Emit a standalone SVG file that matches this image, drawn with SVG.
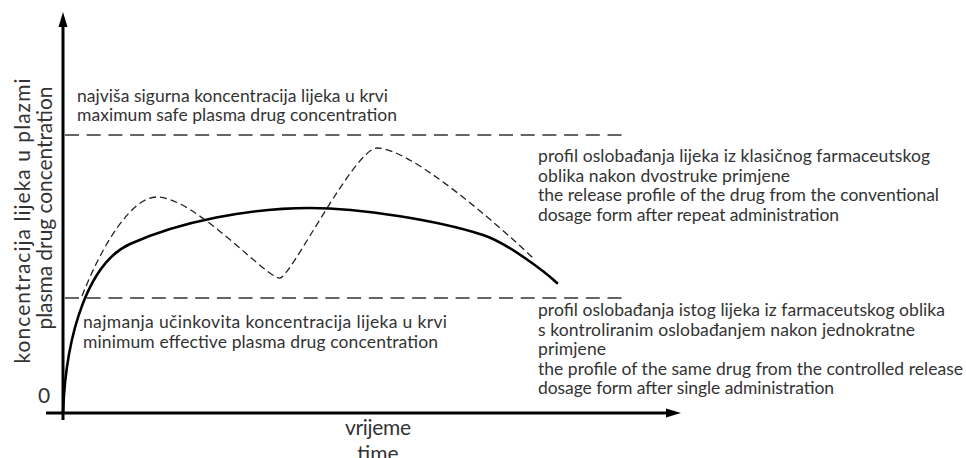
<svg xmlns="http://www.w3.org/2000/svg" width="966" height="458" viewBox="0 0 966 458">
<style>
.t{font-family:Lato,"Noto Sans","Liberation Sans",sans-serif;font-size:17.5px;fill:#333}
.ax{font-family:Lato,"Noto Sans","Liberation Sans",sans-serif;font-size:21px;fill:#333}
.ref{fill:none;stroke:#333;stroke-width:1.3;stroke-dasharray:14 7.7}
.axis{fill:none;stroke:#000;stroke-width:3}
.cr{fill:none;stroke:#000;stroke-width:2.6;stroke-linecap:round}
.conv{fill:none;stroke:#222;stroke-width:1.3;stroke-dasharray:7 4}
</style>
<rect width="966" height="458" fill="#fff"/>
<g id="axes">
<line class="axis" x1="63" y1="420" x2="63" y2="25"/>
<polygon points="63,12 58.5,27 67.5,27" fill="#000"/>
<line class="axis" x1="46" y1="413" x2="668" y2="413"/>
<polygon points="681,413 666,408.5 666,417.5" fill="#000"/>
<text class="ax" x="44" y="403" text-anchor="middle" font-size="20">0</text>
<text class="ax" x="378" y="435" text-anchor="middle" textLength="66">vrijeme</text>
<text class="ax" x="378" y="461" text-anchor="middle">time</text>
<text class="ax" transform="translate(30,221) rotate(-90)" text-anchor="middle" textLength="285">koncentracija lijeka u plazmi</text>
<text class="ax" transform="translate(52,208) rotate(-90)" text-anchor="middle" textLength="243">plasma drug concentration</text>
</g>
<g id="max-level">
<line class="ref" x1="65" y1="135" x2="628" y2="135"/>
<text class="t" x="77" y="102" textLength="311">najviša sigurna koncentracija lijeka u krvi</text>
<text class="t" x="77" y="121" textLength="320">maximum safe plasma drug concentration</text>
</g>
<g id="min-level">
<line class="ref" x1="65" y1="298" x2="628" y2="298"/>
<text class="t" x="83" y="328" textLength="364">najmanja učinkovita koncentracija lijeka u krvi</text>
<text class="t" x="83" y="348" textLength="355">minimum effective plasma drug concentration</text>
</g>
<g id="conventional">
<path class="conv" d="M82,296 C100,250 130,197 157,197 C195,197 268,280 280,278 C290,278 355,148 377,148 C410,148 495,222 533,258"/>
<text class="t" x="538" y="162" textLength="392">profil oslobađanja lijeka iz klasičnog farmaceutskog</text>
<text class="t" x="538" y="181.5" textLength="252">oblika nakon dvostruke primjene</text>
<text class="t" x="538" y="201" textLength="401">the release profile of the drug from the conventional</text>
<text class="t" x="538" y="220.5" textLength="301">dosage form after repeat administration</text>
</g>
<g id="controlled">
<path class="cr" d="M63,413 C66,330 90,262 130,244 C180,221.5 250,208 310,208 C360,208 438,220.4 483,235 C507,242.7 546,272.6 557,283"/>
<text class="t" x="538" y="316" textLength="407">profil oslobađanja istog lijeka iz farmaceutskog oblika</text>
<text class="t" x="538" y="336" textLength="377">s kontroliranim oslobađanjem nakon jednokratne</text>
<text class="t" x="538" y="355" textLength="68">primjene</text>
<text class="t" x="538" y="375" textLength="425">the profile of the same drug from the controlled release</text>
<text class="t" x="538" y="394" textLength="296">dosage form after single administration</text>
</g>
</svg>
